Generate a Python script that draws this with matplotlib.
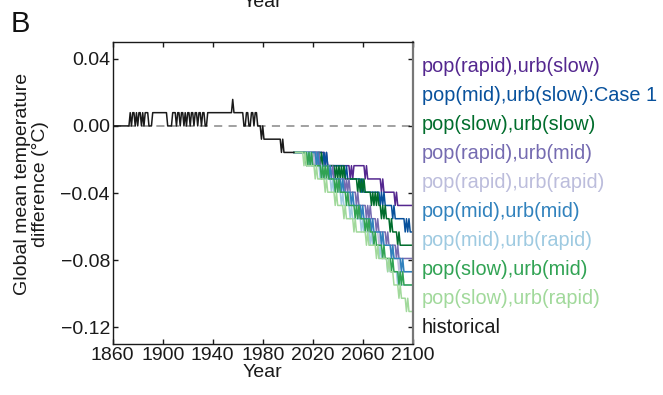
import numpy as np
import matplotlib
matplotlib.use("Agg")
import matplotlib.pyplot as plt

plt.rcParams["font.family"] = ["Liberation Sans", "DejaVu Sans"]

# temperature difference is quantised in steps of this size (degC)
STEP = 0.0079

# historical run, 1860-2005, in steps above/below zero (one value per year)
hist_start = 1860
hist_levels = [
    0, 0, 0, 0, 0, 0, 0, 0, 0, 0,            # 1860s
    0, 0, 0, 0, 1, 0, 1, 1, 0, 1,            # 1870s
    0, 1, 1, 0, 1, 0, 1, 1, 1, 0,            # 1880s
    0, 0, 1, 1, 1, 1, 1, 1, 1, 1,            # 1890s
    1, 1, 1, 1, 0, 0, 0, 0, 1, 1,            # 1900s
    1, 0, 1, 1, 0, 1, 1, 0, 1, 0,            # 1910s
    1, 1, 0, 1, 1, 0, 1, 1, 0, 1,            # 1920s
    1, 0, 1, 1, 0, 0, 1, 1, 1, 1,            # 1930s
    1, 1, 1, 1, 1, 1, 1, 1, 1, 1,            # 1940s
    1, 1, 1, 1, 1, 1, 2, 1, 1, 1,            # 1950s
    1, 1, 1, 1, 1, 0, 0, 1, 1, 0,            # 1960s
    0, 1, 1, 0, 1, 1, 0, 0, 0, -1,           # 1970s
    0, -1, -1, -1, -1, -1, -1, -1, -1, -1,   # 1980s
    -1, -1, -1, -1, -1, -2, -1, -2, -2, -2,  # 1990s
    -2, -2, -2, -2, -2, -2,                  # 2000-2005
]

# scenario runs, 2005-2100; each character is the number of steps below zero
# (hex digits, so a=10 ... e=14), grouped by decade
scen_start = 2005
scenario_names = [
    "pop(rapid),urb(slow)",
    "pop(mid),urb(slow):Case 1",
    "pop(slow),urb(slow)",
    "pop(rapid),urb(mid)",
    "pop(rapid),urb(rapid)",
    "pop(mid),urb(mid)",
    "pop(mid),urb(rapid)",
    "pop(slow),urb(mid)",
    "pop(slow),urb(rapid)",
]
scenario_levels = [
    "22222 2222222222 2222222222 3233333333 3333333333 4343333333 3343444444 4444454555 5555556566 6666666666 6",
    "22222 2222222222 2222222232 3233333333 3333334344 4444444445 4555555555 5555656566 6666767777 7777878788 8",
    "22222 2222232323 2323323233 3333333343 4343434444 4444445454 5455555656 5656676767 7787888898 9999999999 9",
    "22222 2222222222 2222323333 3333343444 4444445454 5555565666 6667676777 7878888889 8999999a9a aaaaaaaaaa a",
    "22222 2222222222 2323333333 3434444444 4545555556 5666666767 7777787888 8889898999 999a9aaaab abbbbbbbbb b",
    "22222 2222222222 2223233333 3334344444 4445455555 5656666667 6777777878 8888898999 999a9aaaaa ababbbbbbb b",
    "22222 2222222323 3333334344 4444454555 5556566666 7677777778 7888889899 999a9aaaaa babbbbbbcb cccccccccc c",
    "22222 2222223232 3333333434 3434444454 5455555656 6666767677 7787878889 899999a9aa aaababbbbc bcbccccccc c",
    "22222 2223233333 3343444444 5455555565 6666676777 7778788888 8889899999 9a9aaaaaaa babbbccccd cddddedeee e",
]
scenario_colors = [
    "#54278f", "#08519c", "#006d2c",
    "#756bb1", "#bcbddc", "#3182bd",
    "#9ecae1", "#31a354", "#a1d99b",
]

x_ticks = [1860, 1900, 1940, 1980, 2020, 2060, 2100]
y_ticks = [0.04, 0.00, -0.04, -0.08, -0.12]

fig = plt.figure(figsize=(6.63, 3.95), dpi=100)
ax = fig.add_axes([0.170, 0.129, 0.4525, 0.7646])

ax.axhline(0, color="#9a9a9a", lw=1.3, ls=(0, (4.5, 3.5)), zorder=1)

hist_years = np.arange(hist_start, hist_start + len(hist_levels))
ax.plot(hist_years, STEP * np.array(hist_levels), color="#1a1a1a", lw=1.1, zorder=3)

for levels, color in zip(scenario_levels, scenario_colors):
    steps = np.array([int(c, 16) for c in levels.replace(" ", "")])
    years = np.arange(scen_start, scen_start + len(steps))
    ax.plot(years, -STEP * steps, color=color, lw=1.1, zorder=2)

ax.set_xlim(1860, 2100)
ax.set_ylim(-0.13, 0.05)
ax.set_xticks(x_ticks)
ax.set_yticks(y_ticks)
ax.set_yticklabels([f"{v:.2f}".replace("-", "\u2212") for v in y_ticks])
ax.tick_params(direction="in", length=3.5, width=1, labelsize=14,
               top=True, right=True, colors="#1a1a1a", pad=2)
for spine in ax.spines.values():
    spine.set_linewidth(1)
    spine.set_color("#1a1a1a")
ax.spines["right"].set_color("#777777")
ax.spines["right"].set_linewidth(1.6)

ax.set_xlabel("Year", fontsize=14, color="#1a1a1a", labelpad=0)
fig.text(31.5 / 663, 1 - 184 / 395, "Global mean temperature\ndifference (\u00b0C)",
         rotation=90, ha="center", va="center", multialignment="center",
         fontsize=14, color="#1a1a1a", linespacing=1.05)

# right-hand legend, one coloured label per run
label_names = scenario_names + ["historical"]
label_colors = scenario_colors + ["#1a1a1a"]
for i, (name, color) in enumerate(zip(label_names, label_colors)):
    y_px = 66 + i * 29.1
    fig.text(422 / 663, 1 - y_px / 395, name, color=color, fontsize=14.3,
             ha="left", va="center")

# panel letter and the bottom of the x label of the panel above
fig.text(11 / 663, 1 - 10 / 395, "B", fontsize=21, ha="left", va="top", color="#111111")
fig.text(262.7 / 663, 1 - 7 / 395, "Year", fontsize=14, ha="center", va="baseline",
         color="#1a1a1a")

fig.savefig("out.png", dpi=100)
